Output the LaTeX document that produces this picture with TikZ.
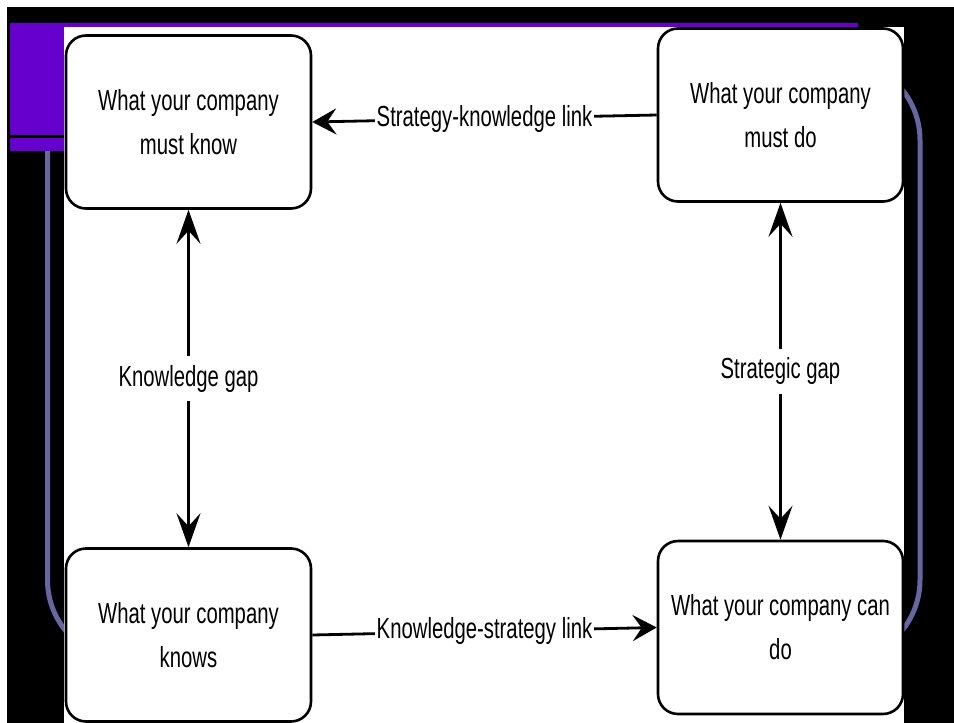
\documentclass[tikz,border=0pt]{standalone}
\usepackage{fontspec}
\usepackage{xcolor}
\usepackage{tikz}
\usetikzlibrary{arrows.meta}
\newfontfamily\narrowsans[FakeStretch=0.7]{Liberation Sans}
\definecolor{titlepurple}{RGB}{102,0,204}
\definecolor{frameslate}{RGB}{102,102,160}

\begin{document}
\begin{tikzpicture}[x=1pt,y=-1pt,
        box/.style={draw,line width=2.6pt,rounded corners=20pt,fill=white,
            minimum width=245pt,minimum height=173pt,align=center,inner sep=0pt,
            font=\narrowsans\fontsize{29}{44}\selectfont},
        link/.style={line width=2.8pt,-{Stealth[length=24pt,width=26pt,inset=9pt]}},
        gap/.style={line width=2.2pt,{Stealth[length=34pt,width=24pt,inset=13pt]}-{Stealth[length=34pt,width=24pt,inset=13pt]}},
        lbl/.style={fill=white,inner xsep=2pt,inner ysep=9pt,
            font=\narrowsans\fontsize{29}{44}\selectfont}]

        % Slide background: white rim, black page
        \useasboundingbox (0,0) rectangle (954,723);
        \fill[white] (0,0) rectangle (954,723);
        \fill[black] (7,7) rectangle (954,723);

        % Rounded slate frame of the template
        \draw[frameslate,line width=5pt,rounded corners=80pt] (47.5,60) rectangle (920,660);

        % Purple title bar with its black rule
        \fill[titlepurple] (10,23) rectangle (858,151);
        \fill[black] (10,135) rectangle (64,138);

        % White panel that holds the diagram
        \fill[white] (64,27) rectangle (904,723);

        % The four boxes
        \node[box] (mustknow) at (188.5,122) {What your company\\must know};
        \node[box] (mustdo) at (780.5,115) {What your company\\must do};
        \node[box] (knows) at (188.5,635) {What your company\\knows};
        \node[box] (cando) at (780.5,627.5) {What your company can\\do};

        % Links between strategy and knowledge
        \draw[link] (mustdo.west) -- (mustknow.east) node[lbl,midway]{Strategy-knowledge link};
        \draw[link] (knows.east) -- (cando.west) node[lbl,midway]{Knowledge-strategy link};

        % Gaps, drawn as double arrows
        \draw[gap] (mustknow.south) -- (knows.north) node[lbl,midway]{Knowledge gap};
        \draw[gap] (mustdo.south) -- (cando.north) node[lbl,midway]{Strategic gap};
        \end{tikzpicture}
\end{document}
